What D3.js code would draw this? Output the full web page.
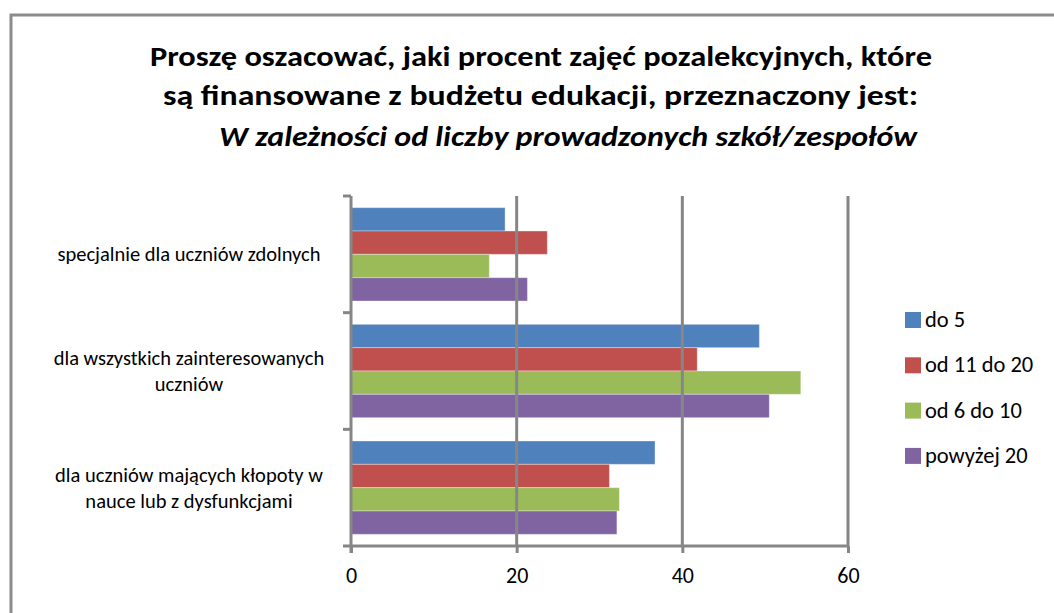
<!DOCTYPE html>
<html>
<head>
<meta charset="utf-8">
<script src="https://cdn.jsdelivr.net/npm/d3@7"></script>
<style>
  body { margin: 0; background: #fff; }
  svg { display: block; font-family: Carlito, "Open Sans", "Liberation Sans", sans-serif; }
</style>
</head>
<body>
<svg id="chart"></svg>
<script>
// chart values
const categories = [
  "specjalnie dla uczniów zdolnych",
  "dla wszystkich zainteresowanych\nuczniów",
  "dla uczniów mających kłopoty w\nnauce lub z dysfunkcjami"
];
const seriesNames = ["do 5", "od 11 do 20", "od 6 do 10", "powyżej 20"];
const do5 = [18.6, 49.3, 36.7];
const od11do20 = [23.7, 41.8, 31.2];
const od6do10 = [16.7, 54.3, 32.4];
const powyzej20 = [21.3, 50.5, 32.1];
const xTicks = [0, 20, 40, 60];
const titleLines = [
  "Proszę oszacować, jaki procent zajęć pozalekcyjnych, które",
  "są finansowane z budżetu edukacji, przeznaczony jest:",
  "W zależności od liczby prowadzonych szkół/zespołów"
];

const colors = ["#4F81BD", "#C0504D", "#9BBB59", "#8064A2"];
const gridColor = "#868686";

const w = 1054, h = 613;
const svg = d3.select('#chart').attr('width', w).attr('height', h);

// outer frame (right and bottom edges fall outside the picture)
svg.append('rect')
  .attr('x', 11).attr('y', 15)
  .attr('width', 1080).attr('height', 640)
  .attr('fill', '#fff')
  .attr('stroke', '#8c8c8c')
  .attr('stroke-width', 3);

// title
const titlePos = [
  {x: 150, y: 66, len: 782, italic: false},
  {x: 163, y: 105, len: 755, italic: false},
  {x: 219, y: 146, len: 698, italic: true}
];
titleLines.forEach((t, i) => {
  svg.append('text')
    .attr('x', titlePos[i].x)
    .attr('y', titlePos[i].y)
    .attr('textLength', titlePos[i].len)
    .attr('lengthAdjust', 'spacingAndGlyphs')
    .style('font-size', '28px')
    .style('font-weight', 'bold')
    .style('font-style', titlePos[i].italic ? 'italic' : 'normal')
    .text(t);
});

// scales
const xScale = d3.scaleLinear().domain([0, 60]).range([351, 848]);
const yScale = d3.scaleBand().domain(categories).range([196, 546]);
const inner = d3.scaleBand().domain(seriesNames)
  .range([0, yScale.bandwidth()]).paddingOuter(0.5);

const allSeries = [do5, od11do20, od6do10, powyzej20];

// bars
categories.forEach((c, ci) => {
  const g = svg.append('g').attr('transform', 'translate(0,' + yScale(c) + ')');
  g.selectAll('rect')
    .data(seriesNames)
    .enter()
    .append('rect')
    .attr('x', xScale(0))
    .attr('y', (d) => inner(d))
    .attr('width', (d, si) => xScale(allSeries[si][ci]) - xScale(0))
    .attr('height', inner.bandwidth())
    .attr('fill', (d, si) => colors[si])
    .attr('stroke', 'rgba(255,255,255,0.35)')
    .attr('stroke-width', 1);
});

// vertical gridlines
svg.selectAll('.grid')
  .data(xTicks.slice(1))
  .enter()
  .append('line')
  .attr('class', 'grid')
  .attr('x1', (d) => xScale(d)).attr('x2', (d) => xScale(d))
  .attr('y1', 196).attr('y2', 546)
  .attr('stroke', gridColor)
  .attr('stroke-width', 3);

// x axis
const xAxis = d3.axisBottom(xScale).tickValues(xTicks).tickSize(7).tickPadding(14);
const gx = svg.append('g')
  .attr('transform', 'translate(0,546)')
  .call(xAxis);
gx.select('.domain').attr('stroke', gridColor).attr('stroke-width', 3)
  .attr('d', 'M' + xScale(0) + ',0H' + xScale(60));
gx.selectAll('.tick line').attr('stroke', gridColor).attr('stroke-width', 3);
gx.selectAll('.tick text')
  .style('font-size', '22px')
  .style('font-family', 'Carlito, "Open Sans", sans-serif')
  .attr('fill', '#000');

// y axis: line plus ticks at the band edges
svg.append('line')
  .attr('x1', xScale(0)).attr('x2', xScale(0))
  .attr('y1', 196).attr('y2', 553)
  .attr('stroke', gridColor).attr('stroke-width', 3);
const edges = categories.map((c) => yScale(c)).concat([yScale.range()[1]]);
svg.selectAll('.ytick')
  .data(edges)
  .enter()
  .append('line')
  .attr('class', 'ytick')
  .attr('x1', xScale(0) - 8).attr('x2', xScale(0))
  .attr('y1', (d) => d).attr('y2', (d) => d)
  .attr('stroke', gridColor).attr('stroke-width', 3);

// category labels
categories.forEach((c) => {
  const lines = c.split('\n');
  const mid = yScale(c) + yScale.bandwidth() / 2;
  const lh = 26;
  const t = svg.append('text')
    .attr('text-anchor', 'middle')
    .style('font-size', '20.5px')
    .attr('fill', '#000');
  lines.forEach((l, i) => {
    t.append('tspan')
      .attr('x', 189)
      .attr('y', mid + 7 + (i - (lines.length - 1) / 2) * lh)
      .text(l);
  });
});

// legend
const legend = svg.append('g').attr('id', 'legend');
seriesNames.forEach((s, i) => {
  const y = 320 + i * 45.3;
  legend.append('rect')
    .attr('x', 905).attr('y', y - 8)
    .attr('width', 16).attr('height', 16)
    .attr('fill', colors[i]);
  legend.append('text')
    .attr('x', 925).attr('y', y + 7)
    .style('font-size', '22.5px')
    .attr('fill', '#000')
    .text(s);
});
</script>
</body>
</html>
